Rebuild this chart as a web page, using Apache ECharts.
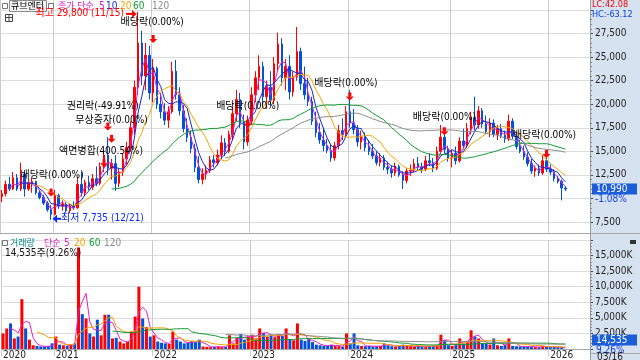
<!DOCTYPE html>
<html><head><meta charset="utf-8">
<script src="https://cdn.jsdelivr.net/npm/echarts@6/dist/echarts.min.js"></script>
<style>
html,body{margin:0;padding:0;background:#fff;}
#c{width:640px;height:360px;background:linear-gradient(to right,#ffffff 0,#ffffff 590px,#d6e2f0 590px,#d6e2f0 640px);}
</style>
</head><body><div id="c"></div>
<script>
// ---- data (bi-weekly buckets starting 2020-06-22) ----
const opens = [10200,10500,11500,11000,12200,11000,12600,11000,11600,11800,
10600,10100,9500,8800,8300,10300,9200,9400,8700,9200,
9000,11500,10600,11700,11200,12100,11600,13400,14600,13200,
13700,11600,12800,14200,15400,17500,21800,26500,23000,25200,
21200,23800,20000,19200,18300,19200,23500,21000,19300,17400,
16500,15300,13300,12000,12600,13000,14100,13800,14600,15900,
15000,16800,19000,20500,18000,16000,18200,21000,22800,24000,
20800,21800,20400,24300,26400,22800,24000,21300,22900,25600,
22200,21000,20300,18200,17000,16200,15600,15100,14300,15600,
17200,16800,19200,18000,17300,16000,16600,15400,15000,14500,
13800,14300,13300,13100,12700,13400,12500,11900,12900,13000,
13700,13300,13100,14000,13800,13200,15000,16500,15200,14300,
14800,14000,16100,15600,17400,18600,17800,19300,17900,17100,
18000,16800,17400,16700,16300,18200,16600,15500,15000,14400,
13700,12900,13200,12700,14000,13100,12800,12100,11800,11110];
const highs = [10900,11900,12300,12800,12600,13800,12800,12100,12200,11900,
10900,10400,9700,9300,10900,10500,9800,9600,9500,9700,
12300,12800,12000,12400,12600,13400,13800,15200,16500,14200,
14600,13200,14800,16000,18200,22500,29800,27800,26500,26200,
24800,24000,21200,20100,19800,24500,24700,21800,19900,18500,
17200,15800,14500,13200,13500,14500,14600,15200,16700,16400,
17200,19800,21500,21200,18900,18800,21800,23500,25200,24500,
22500,23500,25000,27600,27000,24800,25200,23500,28200,26000,
24000,22800,20800,19200,18000,17500,16300,15800,16000,17800,
18500,19800,21500,19500,17800,17200,17000,16200,15800,15000,
14800,14600,13900,13500,13800,13600,12900,13200,13600,14200,
14400,13800,14500,14800,14300,15500,17800,17500,15600,15200,
15500,16500,17400,18000,19200,20800,19800,19600,18800,18500,
18400,17800,17900,17200,18900,18500,16900,16200,15600,14900,
14200,13500,13600,14600,14300,13600,13100,12400,12000,11300];
const lows = [9600,10200,10800,10900,10800,10800,10200,10800,10600,10400,
9900,9300,8600,7735,8200,8900,8700,8500,8400,8800,
8900,10200,10300,10900,10900,11300,11400,12800,12500,12000,
10800,11200,12400,13600,15000,16800,21000,22000,21500,20500,
20200,19500,18500,17800,17500,19000,20500,18800,17000,16000,
14800,12800,11600,11500,12000,12700,13300,13500,14200,14500,
14800,16200,18200,17500,15200,15600,17800,20200,21500,20000,
19500,19800,20000,23500,22000,21500,20500,20800,22500,21500,
20500,19800,17800,16500,15800,15000,14800,13900,14000,15200,
16200,16500,17500,16800,15500,15200,15000,14600,14200,13500,
13400,13000,12600,12200,12400,12300,11000,11600,12400,12800,
13000,12700,12900,13400,12800,13000,14700,14800,13900,13300,
13600,13800,15200,15400,16800,17200,17400,17500,16800,16500,
16500,16200,16400,15900,16100,16300,15200,14800,14100,13400,
12600,12300,12400,12500,12800,12500,11800,11600,9800,10800];
const closes = [10500,11500,11000,12200,11000,12600,11000,11600,11800,10600,
10100,9500,8800,8300,10300,9200,9400,8700,9200,9000,
11500,10600,11700,11200,12100,11600,13400,14600,13200,13700,
11600,12800,14200,15400,17500,21800,26500,23000,25200,21200,
23800,20000,19200,18300,19200,23500,21000,19300,17400,16500,
15300,13300,12000,12600,13000,14100,13800,14600,15900,15000,
16800,19000,20500,18000,16000,18200,21000,22800,24000,20800,
21800,20400,24300,26400,22800,24000,21300,22900,25600,22200,
21000,20300,18200,17000,16200,15600,15100,14300,15600,17200,
16800,19200,18000,17300,16000,16600,15400,15000,14500,13800,
14300,13300,13100,12700,13400,12500,11900,12900,13000,13700,
13300,13100,14000,13800,13200,15000,16500,15200,14300,14800,
14000,16100,15600,17400,18600,17800,19300,17900,17100,18000,
16800,17400,16700,16300,18200,16600,15500,15000,14400,13700,
12900,13200,12700,14000,13100,12800,12100,11800,11110,10990];
// volume in thousand shares
const volumes = [2500,3300,4100,1700,2000,8000,3300,1500,600,500,
400,400,450,900,2000,700,600,500,800,900,
16300,5600,4900,2500,2000,4700,2200,5500,5500,1700,
1800,1200,900,1200,2800,5200,10000,4900,3500,2000,
2200,1200,1000,900,800,2800,1500,1200,900,1000,
1300,1100,1500,400,350,300,350,400,300,350,
2200,900,1800,2400,1500,2000,2300,1700,3300,2600,
2000,2200,1900,2400,2100,3300,1600,1400,4100,1500,
1300,1700,1100,700,600,500,550,700,500,450,
400,2500,900,2500,600,500,450,500,400,450,
500,900,600,450,400,500,700,500,450,400,
500,450,400,450,500,600,2300,1400,600,500,
700,1700,900,1200,3000,2000,1700,900,800,700,
1700,600,500,700,1700,500,450,400,350,400,
350,300,300,500,350,300,350,300,250,14.5];
const priceMaPeriods = [3,5,10,30,60];      // shown as 5,10,20,60,120 (weekly)
const priceMaLabels = ['5','10','20','60','120'];
const volMaPeriods = [3,10,30,60];          // shown as 5,20,60,120
const volMaLabels = ['5','20','60','120'];
const priceTickInterval = 2500;
const volTickInterval = 2500;
const events = [
  {i:40, p:26500, text:'배당락(0.00%)', dy:-21, dx:-1},
  {i:28, p:17200, text:'권리락(-49.91%)', dy:-24, dx:-5},
  {i:29, p:15900, text:'무상증자(0.00%)', dy:-22, dx:0},
  {i:27, p:13300, text:'액면병합(400.54%)', dy:-16, dx:-3},
  {i:13, p:10200, text:'배당락(0.00%)', dy:-21, dx:1},
  {i:65, p:17500, text:'배당락(0.00%)', dy:-21, dx:0},
  {i:92, p:20400, text:'배당락(0.00%)', dy:-17, dx:-4},
  {i:117, p:16700, text:'배당락(0.00%)', dy:-18, dx:0},
  {i:144, p:14300, text:'배당락(0.00%)', dy:-23, dx:-2}
];
const peak = {i:36, p:29800, text:'최고 29,800 (11/15)'};
const trough = {i:13, p:7735, text:'최저 7,735 (12/21)'};
const lastInfo = {price:'10,990', chg:'-1.08%', vol:'14,535', volPct:'9.26%', volText:'14,535주(9.26%)', date:'03/16', lc:'LC:42.08', hc:'HC:-63.12'};

// ---- build ----
const FONT = '"Liberation Sans Narrow","DejaVu Sans Condensed","Noto Sans CJK KR",sans-serif';
const N = opens.length, PAD = 6;
const categories = [];
for (let i = 0; i < N + PAD; i++) {
  const d = new Date(Date.UTC(2020, 5, 22 + 14 * i));
  categories.push(d.toISOString().slice(0, 10));
}
const yearOf = i => categories[i].slice(0, 4);
const isYearStart = (i) => i < N && (i === 0 || yearOf(i) !== yearOf(i - 1));
const yearFn = (index) => isYearStart(index);

const UP = '#ff0000', DOWN = '#0050dc';
const MA_COLORS = ['#e020c8', '#1428c8', '#f5a300', '#129a32', '#8c8c8c'];
const VMA_COLORS = ['#e020c8', '#f5a300', '#129a32', '#8c8c8c'];
const GRIDH = '#dcdcdc', GRIDV = '#cccccc';

function ma(arr, n) {
  return arr.map((v, i) => {
    if (i < n - 1) return '-';
    let s = 0; for (let k = i - n + 1; k <= i; k++) s += arr[k];
    return +(s / n).toFixed(2);
  });
}
const candleData = opens.map((o, i) => [o, closes[i], lows[i], highs[i]]);
const volData = volumes.map((v, i) => ({value: v, itemStyle: {color: closes[i] >= opens[i] ? UP : DOWN}}));

const series = [{
  type: 'candlestick', xAxisIndex: 0, yAxisIndex: 0, data: candleData, barWidth: 2,
  itemStyle: {color: UP, color0: DOWN, borderColor: UP, borderColor0: DOWN, borderWidth: 1}
}];
priceMaPeriods.forEach((p, k) => series.push({
  type: 'line', xAxisIndex: 0, yAxisIndex: 0, data: ma(closes, p), showSymbol: false, symbol: 'none',
  lineStyle: {width: 1, color: MA_COLORS[k]}, z: 3
}));
series.push({type: 'bar', xAxisIndex: 2, yAxisIndex: 1, data: volData, barWidth: 3});
volMaPeriods.forEach((p, k) => series.push({
  type: 'line', xAxisIndex: 2, yAxisIndex: 1, data: ma(volumes, p), showSymbol: false, symbol: 'none',
  lineStyle: {width: 1, color: VMA_COLORS[k]}, z: 3
}));

const labelStyle = {fontSize: 10, color: '#222', fontFamily: FONT};
const option = {
  animation: false,
  grid: [
    {left: 0, right: 50, top: 10, height: 212},
    {left: 0, right: 50, top: 240, height: 113}
  ],
  xAxis: [
    {type: 'category', gridIndex: 0, data: categories, boundaryGap: true,
      axisLine: {show: false}, axisLabel: {show: false},
      axisTick: {show: true, interval: yearFn, length: 11, lineStyle: {color: GRIDV}},
      splitLine: {show: true, interval: yearFn, lineStyle: {color: GRIDV}}},
    {type: 'category', gridIndex: 0, position: 'top', data: categories, boundaryGap: true,
      axisLine: {show: false}, axisLabel: {show: false},
      axisTick: {show: true, interval: yearFn, length: 10, lineStyle: {color: GRIDV}},
      splitLine: {show: false}},
    {type: 'category', gridIndex: 1, data: categories, boundaryGap: true,
      axisLine: {show: true, onZero: false, lineStyle: {color: '#a8a8a8'}},
      axisTick: {show: true, interval: yearFn, length: 7, lineStyle: {color: GRIDV}},
      axisLabel: Object.assign({show: true, interval: yearFn, formatter: v => v.slice(0, 4), align: 'left', verticalAlign: 'top', margin: 1}, labelStyle),
      splitLine: {show: true, interval: yearFn, lineStyle: {color: GRIDV}}}
  ],
  yAxis: [
    {type: 'value', gridIndex: 0, position: 'right', min: 7500, max: 30000, interval: priceTickInterval,
      axisLine: {show: true, lineStyle: {color: '#9a9a9a'}},
      axisTick: {show: true, length: 3, lineStyle: {color: '#444'}},
      minorTick: {show: true, splitNumber: 5, length: 2, lineStyle: {color: '#888'}},
      axisLabel: Object.assign({margin: 5, formatter: v => (v === 30000 || v === 10000) ? '' : v.toLocaleString('en-US')}, labelStyle),
      splitLine: {show: true, lineStyle: {color: GRIDH}}},
    {type: 'value', gridIndex: 1, position: 'right', min: 0, max: 17500, interval: volTickInterval,
      axisLine: {show: true, lineStyle: {color: '#9a9a9a'}},
      axisTick: {show: true, length: 3, lineStyle: {color: '#444'}},
      minorTick: {show: true, splitNumber: 5, length: 2, lineStyle: {color: '#888'}},
      axisLabel: Object.assign({margin: 5, formatter: v => (v === 0 || v === 17500) ? '' : v.toLocaleString('en-US') + 'K'}, labelStyle),
      splitLine: {show: true, lineStyle: {color: GRIDH}}}
  ],
  series: series
};

const chart = echarts.init(document.getElementById('c'), null, {renderer: 'canvas', width: 640, height: 360});
chart.setOption(option);

const pP = (i, p) => chart.convertToPixel({seriesIndex: 0}, [i, p]);
const pV = (i, v) => chart.convertToPixel({seriesIndex: 6}, [i, v]);

function txt(text, x, y, color, size, align, extra) {
  return Object.assign({type: 'text', z: 100, silent: true, style: {
    text: text, x: x, y: y, fill: color, font: (size || 10) + 'px ' + FONT,
    textAlign: align || 'left', align: align || 'left', textVerticalAlign: 'middle', verticalAlign: 'middle'}}, extra || {});
}
function rect(x, y, w, h, fill, stroke) {
  return {type: 'rect', z: 90, silent: true, shape: {x: x, y: y, width: w, height: h},
    style: {fill: fill || 'none', stroke: stroke || null, lineWidth: 1}};
}
function line(x1, y1, x2, y2, color) {
  return {type: 'line', z: 90, silent: true, shape: {x1: x1, y1: y1, x2: x2, y2: y2}, style: {stroke: color, lineWidth: 1}};
}
function downArrow(x, tipY, color) {
  return [
    {type: 'rect', z: 95, silent: true, shape: {x: x - 1.5, y: tipY - 8, width: 3, height: 4}, style: {fill: color}},
    {type: 'polygon', z: 95, silent: true, shape: {points: [[x - 4, tipY - 4], [x + 4, tipY - 4], [x, tipY]]}, style: {fill: color}}
  ];
}

const g = [];
// panel frames
g.push(line(590.5, 0, 590.5, 360, '#9a9a9a'));
g.push(line(0, 233.5, 640, 233.5, '#a8a8a8'));
g.push(line(590, 353.5, 640, 353.5, '#a8a8a8'));

// title legend
g.push(rect(2.5, 3.5, 5, 5, '#fff', '#777'));
g.push(rect(9.5, 0.5, 37, 11, '#f3f3f3', '#8a8a8a'));
g.push(txt('큐브엔터', 11, 6.5, '#000', 9));
g.push(rect(48.5, 3.5, 5, 5, '#fff', '#777'));
g.push(txt('종가 단순', 58, 6.5, MA_COLORS[0], 9));
const legX = [99, 106, 120, 133, 152];
priceMaLabels.forEach((l, k) => g.push(txt(l, legX[k], 6.5, MA_COLORS[k], 10)));
// chart icon
g.push(rect(5.5, 14.5, 7, 7, '#fff', '#444'));
g.push(line(5.5, 17.5, 12.5, 17.5, '#444'));
g.push(line(9, 14.5, 9, 21.5, '#444'));

// volume legend
g.push(rect(2.5, 240.5, 5, 5, '#fff', '#777'));
g.push(txt('거래량', 10, 243.5, '#008c8c', 9));
g.push(txt('단순', 44, 243.5, VMA_COLORS[0], 9));
const vlegX = [64, 74, 89, 104];
volMaLabels.forEach((l, k) => g.push(txt(l, vlegX[k], 243.5, VMA_COLORS[k], 10)));
g.push(txt(lastInfo.volText, 5, 253, '#111', 10));
g.push(rect(630, 240, 6, 4, '#333'));

// events
events.forEach(ev => {
  const [x, y] = pP(ev.i, ev.p);
  downArrow(x, y, '#ff0000').forEach(e => g.push(e));
  g.push(txt(ev.text, x + (ev.dx || 0), y + ev.dy, '#000', 10, 'center'));
});
// high / low
{
  const [x, y] = pP(peak.i, peak.p);
  const yy = y + 2;
  g.push({type: 'rect', z: 95, silent: true, shape: {x: x - 12, y: yy - 1, width: 6, height: 2}, style: {fill: '#ff0000'}});
  g.push({type: 'polygon', z: 95, silent: true, shape: {points: [[x - 6, yy - 4], [x - 6, yy + 4], [x - 1.5, yy]]}, style: {fill: '#ff0000'}});
  g.push(txt(peak.text, x - 14, yy, '#ff0000', 10, 'right'));
}
{
  const [x, y] = pP(trough.i, trough.p);
  const yy = y - 1;
  g.push({type: 'polygon', z: 95, silent: true, shape: {points: [[x + 6, yy - 4], [x + 6, yy + 4], [x + 1.5, yy]]}, style: {fill: '#0a28ff'}});
  g.push({type: 'rect', z: 95, silent: true, shape: {x: x + 6, y: yy - 1, width: 4, height: 2}, style: {fill: '#0a28ff'}});
  g.push(txt(trough.text, x + 10, yy, '#0a28ff', 10, 'left'));
}

// right panel texts
g.push(txt(lastInfo.lc, 592, 5, '#ff0000', 9));
g.push(txt(lastInfo.hc, 592, 15, '#0040e0', 9));
{
  const py = pP(N - 1, closes[N - 1])[1];
  g.push(rect(592, py - 5.5, 45, 11, '#1b5ed8'));
  g.push(txt(lastInfo.price, 596, py, '#fff', 10));
  g.push(txt(lastInfo.chg, 595, py + 10.5, '#1040f0', 10));
}
{
  const vy = Math.min(pV(N - 1, volumes[N - 1])[1], 340);
  g.push(rect(592, vy - 5.5, 45, 11, '#1b5ed8'));
  g.push(txt(lastInfo.vol, 596, vy, '#fff', 10));
  g.push(txt(lastInfo.volPct, 596, vy + 10, '#1040f0', 10));
}
g.push(txt(lastInfo.date, 597, 357.5, '#222', 10));

chart.setOption({graphic: {elements: g}});
</script>
</body></html>
